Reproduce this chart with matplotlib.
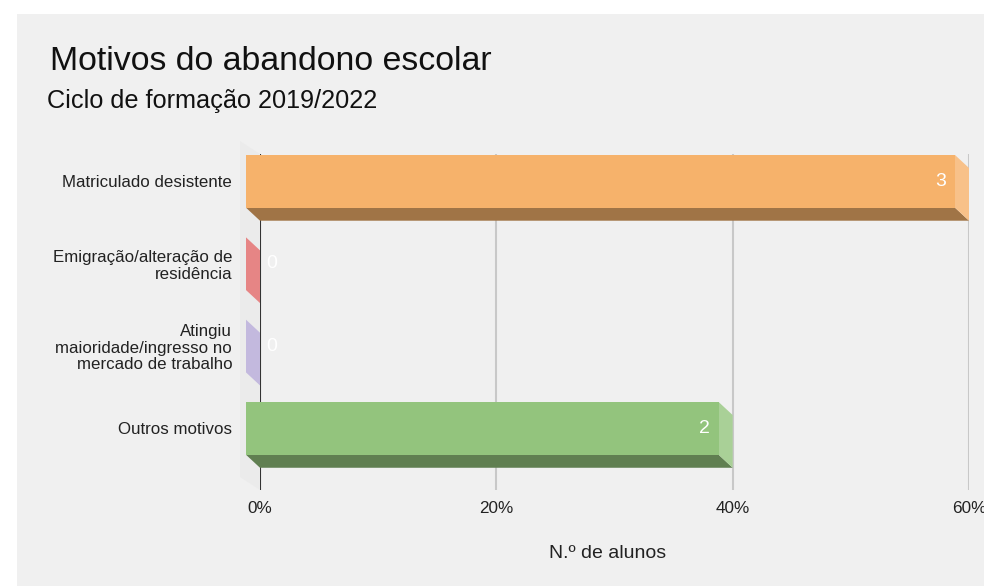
import numpy as np
import matplotlib
matplotlib.use("Agg")
import matplotlib.pyplot as plt
from matplotlib.patches import Polygon, Rectangle
from matplotlib.colors import to_rgb

plt.rcParams['font.family'] = ['Liberation Sans', 'DejaVu Sans']

categories = ["Matriculado desistente",
              "Emigração/alteração de\nresidência",
              "Atingiu\nmaioridade/ingresso no\nmercado de trabalho",
              "Outros motivos"]
counts = [3, 0, 0, 2]
colors = ["#f6b26b", "#e06666", "#b4a7d6", "#93c47d"]
ticks = [0, 20, 40, 60]

total = sum(counts)
percent = [c / total * 100 for c in counts]

W, H = 984, 586
fig = plt.figure(figsize=(W / 100, H / 100), dpi=100, facecolor="white")
fig.patches.append(Rectangle((17 / W, 0), 1, 1 - 14 / H, transform=fig.transFigure,
                             facecolor="#f0f0f0", edgecolor="none", zorder=-5))

# back plane of the plot area, in pixels
x0, x1, ytop, ybot = 260, 969, 154, 490
ax = fig.add_axes([x0 / W, 1 - ybot / H, (x1 - x0) / W, (ybot - ytop) / H])
ax.set_zorder(2)
ax.set_facecolor("none")
for s in ax.spines.values():
    s.set_visible(False)

ax.set_xlim(0, 60)
ax.set_ylim(3.59, -0.49)

# depth of the 3d effect, converted from pixels to data units
px_x = 60 / (x1 - x0)
px_y = 4.08 / (ybot - ytop)
DX = 14 * px_x
DY = 13 * px_y
hh = 0.32


def shade(c, f):
    r = np.array(to_rgb(c))
    return tuple(r * f)


def tint(c, f):
    r = np.array(to_rgb(c))
    return tuple(r + (1 - r) * f)


# side wall
wx = 20 * px_x
ax.add_patch(Polygon([(-wx, -0.49 - DY), (0, -0.49), (0, 3.59), (-wx, 3.59 - DY)],
                     closed=True, facecolor="#e8e8e8", edgecolor="none", alpha=0.6,
                     clip_on=False, zorder=0.5))

for t in ticks[1:]:
    ax.axvline(t, color="#c8c8c8", lw=1.5, zorder=1)
ax.axvline(0, color="#333333", lw=1.5, zorder=1)

for i, (v, c, n) in enumerate(zip(percent, colors, counts)):
    top, bot = i - hh, i + hh
    # bottom face
    ax.add_patch(Polygon([(-DX, bot - DY), (v - DX, bot - DY), (v, bot), (0, bot)],
                         closed=True, facecolor=shade(c, 0.65), edgecolor="none",
                         clip_on=False, zorder=2))
    # right end face
    ax.add_patch(Polygon([(v - DX, top - DY), (v, top), (v, bot), (v - DX, bot - DY)],
                         closed=True, facecolor=tint(c, 0.2), edgecolor="none",
                         clip_on=False, zorder=2))
    # front face
    if v > 0:
        ax.add_patch(Rectangle((-DX, top - DY), v, 2 * hh, facecolor=c,
                               edgecolor="none", clip_on=False, zorder=3))
        ax.annotate(str(n), (v - DX, i - DY), xytext=(-9, 0), textcoords="offset pixels",
                    ha="right", va="center", color="white", fontsize=14, zorder=4)
    else:
        ax.annotate(str(n), (0, i - DY), xytext=(6, 0), textcoords="offset pixels",
                    ha="left", va="center", color="white", fontsize=14, zorder=4)

ax.set_xticks(ticks, [f"{t}%" for t in ticks])
ax.set_yticks([i - DY for i in range(len(categories))], categories)
ax.tick_params(axis="x", length=0, pad=8, labelsize=12.3, colors="#222222")
ax.tick_params(axis="y", length=0, pad=20, labelsize=12.2, colors="#222222")
for lab in ax.get_yticklabels():
    lab.set_linespacing(1.13)

fig.text(608 / W, 1 - 553 / H, "N.º de alunos", ha="center", va="center",
         fontsize=14, color="#222222")
fig.text(50 / W, 1 - 70 / H, "Motivos do abandono escolar", ha="left", va="baseline",
         fontsize=24.4, color="#111111")
fig.text(47 / W, 1 - 108 / H, "Ciclo de formação 2019/2022", ha="left", va="baseline",
         fontsize=18.2, color="#111111")

fig.savefig("out.png", dpi=100)
